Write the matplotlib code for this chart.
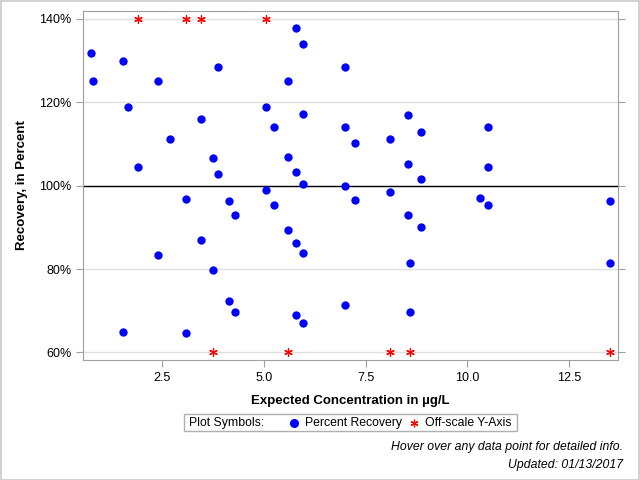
import matplotlib
matplotlib.use("Agg")
import matplotlib.pyplot as plt
from matplotlib.lines import Line2D
from matplotlib.patches import Rectangle

plt.rcParams['font.family'] = ['Liberation Sans', 'DejaVu Sans']

# --- Data: expected concentration (ug/L) and percent recovery ---
conc = [0.75, 0.80, 1.53, 1.66, 1.91, 2.40, 2.69, 3.45, 3.75, 3.88, 3.88,
        5.05, 5.25, 5.59, 5.59, 5.78, 5.78, 5.96, 5.96, 5.96, 5.05,
        7.00, 7.00, 7.24, 8.09, 8.54, 8.86, 10.51, 8.54, 8.86, 10.51,
        7.00, 8.09, 10.31, 13.50,
        3.09, 4.15, 4.29, 5.25, 5.59, 5.78, 5.96, 3.45, 2.40, 3.75,
        4.15, 4.29, 5.78, 5.96, 1.53, 3.09,
        7.24, 8.54, 8.86, 10.51, 8.59, 13.50, 7.00, 8.59]
recovery = [131.8, 125.0, 129.8, 119.0, 104.6, 125.0, 111.1, 115.9, 106.6, 128.4, 102.8,
            118.8, 114.2, 125.0, 107.0, 137.8, 103.4, 133.9, 117.1, 100.4, 98.9,
            128.4, 114.2, 110.2, 111.1, 116.9, 113.0, 114.2, 105.1, 101.5, 104.6,
            99.9, 98.6, 97.0, 96.3,
            96.7, 96.3, 92.9, 95.3, 89.3, 86.2, 83.8, 86.9, 83.3, 79.9,
            72.3, 69.6, 68.9, 67.0, 64.8, 64.6,
            96.5, 92.9, 90.2, 95.3, 81.4, 81.4, 71.3, 69.6]

# off-scale points, pinned to the axis limits
off_high_conc = [1.91, 3.08, 3.45, 5.05]
off_low_conc = [3.75, 5.59, 8.09, 8.59, 13.50]
Y_HIGH = 140
Y_LOW = 60

STAR = (6, 2, 0)

fig = plt.figure(figsize=(6.4, 4.8), dpi=100)
fig.add_artist(Rectangle((0.001, 0.001), 0.997, 0.997, transform=fig.transFigure,
                         fill=False, edgecolor='#c8c8c8', linewidth=1.2))
ax = fig.add_axes([0.1297, 0.25, 0.8359, 0.727])

ax.axhline(100, color='black', linewidth=1.0, zorder=2)
ax.scatter(conc, recovery, s=36, color='#0000ff', zorder=3, linewidths=0)
ax.scatter(off_high_conc, [Y_HIGH] * len(off_high_conc), marker=STAR,
           s=30, color='red', linewidths=0.9, zorder=3)
ax.scatter(off_low_conc, [Y_LOW] * len(off_low_conc), marker=STAR,
           s=30, color='red', linewidths=0.9, zorder=3)

ax.set_xlim(0.55, 13.7)
ax.set_ylim(58.2, 141.9)
ax.set_xticks([2.5, 5.0, 7.5, 10.0, 12.5])
ax.set_xticklabels(['2.5', '5.0', '7.5', '10.0', '12.5'])
ax.set_yticks([60, 80, 100, 120, 140])
ax.set_yticklabels(['60%', '80%', '100%', '120%', '140%'])
ax.grid(axis='y', color='#e0e0e0', linewidth=1.0, zorder=0)
ax.set_axisbelow(True)

for s in ax.spines.values():
    s.set_color('#a0a0a0')
ax.tick_params(axis='both', colors='#a0a0a0', labelcolor='black', labelsize=9,
               length=5, direction='out')
ax.tick_params(axis='y', right=True)

ax.set_xlabel('Expected Concentration in µg/L', fontsize=9.5, fontweight='bold', labelpad=8)
ax.set_ylabel('Recovery, in Percent', fontsize=9.5, fontweight='bold', labelpad=8)

# legend box
LEG_Y = 1 - 423 / 480
fig.add_artist(Rectangle((184 / 640, 1 - 431 / 480), 333 / 640, 17 / 480,
                         transform=fig.transFigure, fill=False,
                         edgecolor='#b0b0b0', linewidth=1.0))
fig.text(189 / 640, LEG_Y, 'Plot Symbols:', fontsize=8.8, va='center')
fig.add_artist(Line2D([294 / 640], [LEG_Y], marker='o', markersize=5.5,
                      color='#0000ff', linestyle='none', transform=fig.transFigure))
fig.text(305 / 640, LEG_Y, 'Percent Recovery', fontsize=8.8, va='center')
fig.add_artist(Line2D([414 / 640], [LEG_Y], marker=STAR, markersize=5.5,
                      color='red', markeredgewidth=0.9, linestyle='none',
                      transform=fig.transFigure))
fig.text(425 / 640, LEG_Y, 'Off-scale Y-Axis', fontsize=8.8, va='center')

fig.text(623 / 640, 1 - 447 / 480, 'Hover over any data point for detailed info.',
         fontsize=8.8, style='italic', ha='right', va='center')
fig.text(623 / 640, 1 - 465 / 480, 'Updated: 01/13/2017',
         fontsize=8.8, style='italic', ha='right', va='center')

fig.savefig('out.png', dpi=100)
